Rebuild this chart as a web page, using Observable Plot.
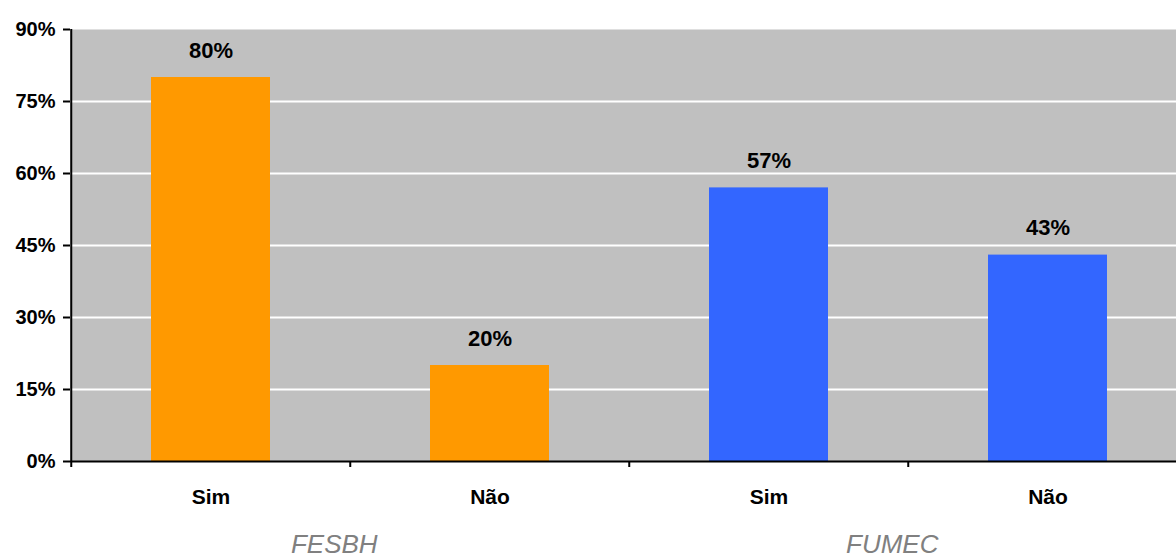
<!DOCTYPE html>
<html>
<head>
<meta charset="utf-8">
<script src="https://cdn.jsdelivr.net/npm/d3@7"></script>
<script src="https://cdn.jsdelivr.net/npm/@observablehq/plot@0.6"></script>
<style>
  html, body { margin: 0; padding: 0; background: #fff; overflow: hidden; }
  #chart svg { display: block; }
</style>
</head>
<body>
<div id="chart"></div>
<script>
// Survey answers per institution (percent of respondents)
const groups = ["FESBH", "FESBH", "FUMEC", "FUMEC"];
const answers = ["Sim", "Não", "Sim", "Não"];
const values = [80, 20, 57, 43];
const groupNames = ["FESBH", "FUMEC"];
const groupColors = { FESBH: "#FF9900", FUMEC: "#3366FF" };
const yTicks = [0, 15, 30, 45, 60, 75, 90];
const gridValues = [15, 30, 45, 60, 75];

const data = values.map((v, i) => ({
  key: groups[i] + " " + answers[i],
  group: groups[i],
  answer: answers[i],
  value: v
}));
const keys = data.map(d => d.key);

// Layout: the category bands run slightly past the right edge of the view
const width = 1176, height = 558;
const marginLeft = 70, marginRight = 0, marginTop = 29, marginBottom = 97;
const bandEnd = 1188;
const step = (bandEnd - marginLeft) / keys.length;

// One label per group, anchored on the boundary between its two answers
const groupLabels = groupNames.map(g => ({ group: g, key: g + " Não" }));

const chart = Plot.plot({
  width, height, marginLeft, marginRight, marginTop, marginBottom,
  style: { fontFamily: "'Liberation Sans', Arial, sans-serif", color: "black", background: "white" },
  x: { domain: keys, range: [marginLeft, bandEnd], paddingInner: 0.574, paddingOuter: 0.287, axis: null },
  y: { domain: [0, 90], axis: null },
  marks: [
    Plot.frame({ fill: "#C0C0C0", stroke: null }),
    Plot.ruleY(gridValues, { stroke: "white", strokeWidth: 2 }),
    Plot.barY(data, { x: "key", y: "value", fill: d => groupColors[d.group] }),
    Plot.text(data, {
      x: "key", y: "value", text: d => d.value + "%",
      lineAnchor: "bottom", dy: -20,
      fontSize: 22, fontWeight: "bold", fill: "black"
    }),
    // axes
    Plot.axisY({
      ticks: yTicks, tickFormat: d => d + "%", tickSize: 7, tickPadding: 8,
      strokeWidth: 2, fontSize: 20, fontWeight: "bold", label: null
    }),
    Plot.ruleX([keys[0]], { dx: -step / 2, stroke: "black", strokeWidth: 2 }),
    Plot.ruleY([0], { stroke: "black", strokeWidth: 2 }),
    Plot.axisX({
      ticks: keys, tickSize: 6, strokeWidth: 2, dx: -step / 2,
      tickFormat: () => "", label: null
    }),
    Plot.text(data, {
      x: "key", text: "answer", frameAnchor: "bottom", lineAnchor: "bottom", dy: 42,
      fontSize: 21, fontWeight: "bold", fill: "black"
    }),
    Plot.text(groupLabels, {
      x: "key", text: "group", frameAnchor: "bottom", lineAnchor: "bottom",
      dx: -step / 2 - 16, dy: 91,
      fontSize: 26, fontStyle: "italic", fill: "#808080"
    })
  ]
});
document.getElementById("chart").append(chart);
</script>
</body>
</html>
